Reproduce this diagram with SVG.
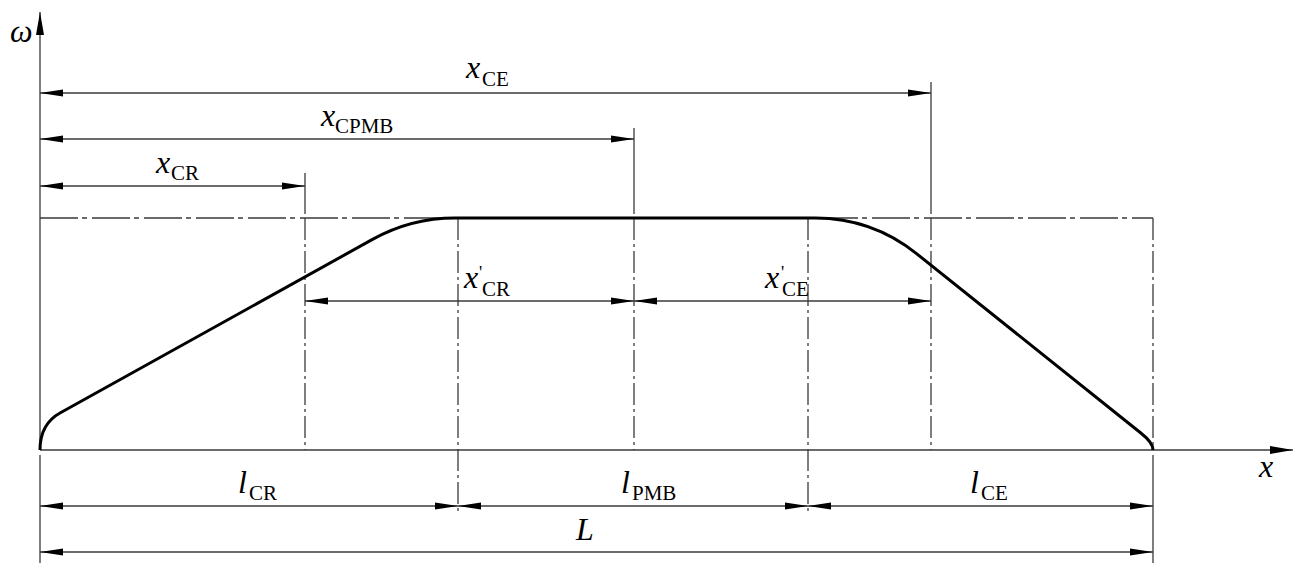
<svg xmlns="http://www.w3.org/2000/svg" width="1299" height="584" viewBox="0 0 1299 584">
<style>
.thin{stroke:#3a3a3a;stroke-width:1.3;fill:none}
.dd{stroke:#3a3a3a;stroke-width:1.3;fill:none;stroke-dasharray:22 4 3 4}
.ddh{stroke:#3a3a3a;stroke-width:1.3;fill:none;stroke-dasharray:38 4 5 5}
.dim{stroke:#3a3a3a;stroke-width:1.3;fill:none;marker-start:url(#ar);marker-end:url(#ar)}
.curve{stroke:#000;stroke-width:3;fill:none;stroke-linejoin:round}
text{font-family:"Liberation Serif","Times New Roman",serif;fill:#000}
.m{font-size:32px;font-style:italic}
.s{font-size:21px;font-style:normal}
.p{font-size:18px;font-style:normal}
</style>
<defs>
<marker id="ar" viewBox="0 -4 23 8" refX="23" refY="0" markerWidth="23" markerHeight="8" markerUnits="userSpaceOnUse" orient="auto-start-reverse">
<path d="M0,-3.5 L23,0 L0,3.5 z" fill="#000"/>
</marker>
<marker id="ax" viewBox="0 -4.5 23 9" refX="23" refY="0" markerWidth="23" markerHeight="9" markerUnits="userSpaceOnUse" orient="auto">
<path d="M0,-4 L23,0 L0,4 z" fill="#000"/>
</marker>
</defs>
<rect width="1299" height="584" fill="#fff"/>
<g id="axes">
<line class="thin" x1="40" y1="450" x2="40" y2="12" marker-end="url(#ax)"/>
<line class="thin" x1="40" y1="450" x2="1293" y2="450" marker-end="url(#ax)"/>
<line class="thin" x1="40" y1="455" x2="40" y2="563"/>
</g>
<g id="guides">
<line class="ddh" x1="40" y1="218" x2="1153" y2="218"/>
<line class="thin" x1="305" y1="173" x2="305" y2="214"/>
<line class="dd" x1="305" y1="218" x2="305" y2="450"/>
<line class="thin" x1="634" y1="128" x2="634" y2="214"/>
<line class="dd" x1="634" y1="218" x2="634" y2="450"/>
<line class="thin" x1="931" y1="82" x2="931" y2="214"/>
<line class="dd" x1="931" y1="218" x2="931" y2="450"/>
<line class="dd" x1="458" y1="218" x2="458" y2="515"/>
<line class="dd" x1="808" y1="218" x2="808" y2="515"/>
<line class="dd" x1="1153" y1="218" x2="1153" y2="450"/>
<line class="thin" x1="1153" y1="455" x2="1153" y2="563"/>
</g>
<g id="profile">
<path class="curve" d="M40,450 Q40,424 60,413 L372.5,239.4 Q411,218 455,218 L815,218 Q872,218 916.5,253.6 L1140.8,433 Q1153,442.6 1153,450"/>
</g>
<g id="connectors">
<path class="dim" d="M40,93 H931"/>
<path class="dim" d="M40,139 H634"/>
<path class="dim" d="M40,186 H305"/>
<path class="dim" d="M305,301 H634"/>
<path class="dim" d="M634,301 H931"/>
<path class="dim" d="M40,506 H458"/>
<path class="dim" d="M458,506 H808"/>
<path class="dim" d="M808,506 H1153"/>
<path class="dim" d="M40,552 H1153"/>
</g>
<g id="labels">
<text class="m" x="10" y="42">ω</text>
<text class="m" x="1259" y="477">x</text>
<text class="m" x="466" y="78">x<tspan class="s" x="482" y="86">CE</tspan></text>
<text class="m" x="321" y="126">x<tspan class="s" x="335" y="133">CPMB</tspan></text>
<text class="m" x="156" y="173">x<tspan class="s" x="171" y="180">CR</tspan></text>
<text class="m" x="464" y="288">x<tspan class="p" x="479" y="279">'</tspan><tspan class="s" x="482" y="296">CR</tspan></text>
<text class="m" x="765" y="288">x<tspan class="p" x="781" y="279">'</tspan><tspan class="s" x="782" y="296">CE</tspan></text>
<text class="m" x="238" y="493">l<tspan class="s" x="249" y="500">CR</tspan></text>
<text class="m" x="621" y="493">l<tspan class="s" x="632" y="500">PMB</tspan></text>
<text class="m" x="970" y="493">l<tspan class="s" x="981" y="500">CE</tspan></text>
<text class="m" x="576" y="540">L</text>
</g>
</svg>
